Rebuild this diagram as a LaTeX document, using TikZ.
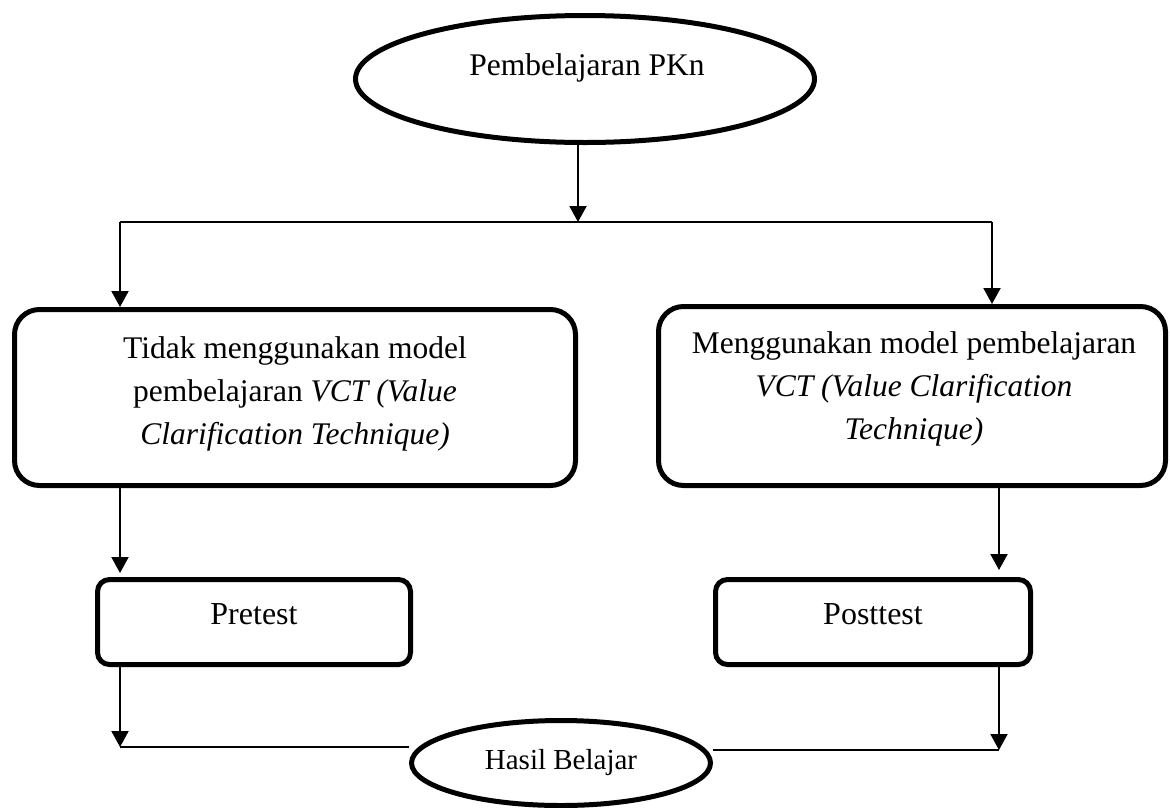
\documentclass[tikz,border=0pt]{standalone}
\usepackage{fontspec}
\setmainfont{Liberation Serif}
\usetikzlibrary{shapes.geometric,arrows.meta,backgrounds}

\tikzset{
  oval/.style={draw,ellipse,line width=5pt,fill=white,inner sep=0pt},
  bigbox/.style={draw,rounded corners=25pt,line width=5pt,fill=white},
  smallbox/.style={draw,rounded corners=12pt,line width=5pt,fill=white},
  wire/.style={line width=2pt},
  link/.style={line width=2pt,-{Triangle[width=17pt,length=16pt]}},
  txt/.style={align=center,inner sep=0pt,font=\fontsize{31.5}{43}\selectfont}
}

\begin{document}
\begin{tikzpicture}[x=1pt,y=-1pt]
\useasboundingbox (0,0) rectangle (1170,807);

% nodes
\node[oval,minimum width=459,minimum height=127] (pkn) at (585,79) {};
\node[txt] (pkntext) at (587,67.6) {Pembelajaran PKn};

\node[bigbox,minimum width=561,minimum height=176] (nomvct) at (295,397.5) {};
\node[txt] (nomvcttext) at (295,394) {Tidak menggunakan model\\
  pembelajaran \textit{VCT (Value}\\ \textit{Clarification Technique)}};

\node[bigbox,minimum width=507,minimum height=179] (vct) at (912,396) {};
\node[txt] (vcttext) at (914,389) {Menggunakan model pembelajaran\\
  \textit{VCT (Value Clarification}\\ \textit{Technique)}};

\node[smallbox,minimum width=313,minimum height=85] (pre) at (254,622) {};
\node[txt,font=\fontsize{32}{40}\selectfont] (pretext) at (254,614.5) {Pretest};

\node[smallbox,minimum width=315,minimum height=85] (post) at (873,622) {};
\node[txt,font=\fontsize{32}{40}\selectfont] (posttext) at (873,614.5) {Posttest};

\node[oval,minimum width=299,minimum height=85,font=\fontsize{29}{36}\selectfont] (hasil) at (561,763) {Hasil Belajar};

% connectors
\coordinate (split) at (578,222);
\coordinate (splitL) at (120,222);
\coordinate (splitR) at (992,222);
\coordinate (joinL) at (120,747);
\coordinate (joinR) at (999,750);

\begin{scope}[on background layer]
\draw[link] (split |- pkn.south) -- (split);
\draw[wire] (splitL) -- (splitR);
\draw[link] (splitL) -- (splitL |- nomvct.north);
\draw[link] (splitR) -- (splitR |- vct.north);
\draw[link,shorten >=4pt] (nomvct.south -| joinL) -- (pre.north -| joinL);
\draw[link,shorten >=7pt] (vct.south -| joinR) -- (post.north -| joinR);
\draw[link] (pre.south -| joinL) -- (joinL);
\draw[link] (post.south -| joinR) -- (joinR);
\draw[wire] (joinL) -- (joinL -| hasil.west);
\draw[wire] (joinR) -- (joinR -| hasil.east);
\end{scope}
\end{tikzpicture}
\end{document}
